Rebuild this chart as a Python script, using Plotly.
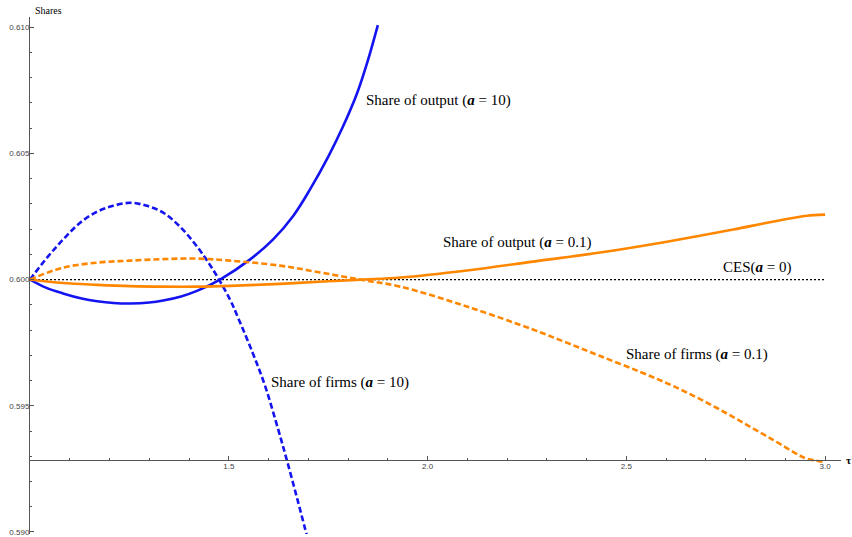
import plotly.graph_objects as go

# ---- data ----
out10_t = [1.0, 1.04, 1.083, 1.13, 1.169, 1.21, 1.252, 1.3, 1.335, 1.38, 1.42, 1.478, 1.553, 1.611, 1.662, 1.704, 1.75, 1.787, 1.823, 1.848, 1.875]
out10_v = [0.6, 0.59968, 0.59945, 0.59925, 0.59914, 0.59907, 0.59905, 0.59909, 0.59917, 0.59933, 0.59955, 0.60000, 0.60079, 0.60158, 0.60252, 0.60356, 0.60486, 0.60605, 0.60739, 0.60858, 0.61008]

firm10_t = [1.0, 1.043, 1.083, 1.126, 1.169, 1.209, 1.252, 1.294, 1.335, 1.377, 1.42, 1.46, 1.503, 1.523, 1.56, 1.591, 1.624, 1.646, 1.672, 1.697]
firm10_v = [0.6, 0.60087, 0.60158, 0.60225, 0.60269, 0.60292, 0.60304, 0.60292, 0.60265, 0.60210, 0.60131, 0.60040, 0.59921, 0.59850, 0.59710, 0.59580, 0.59408, 0.59285, 0.59133, 0.58982]

out01_t = [1.0, 1.083, 1.169, 1.252, 1.335, 1.42, 1.503, 1.629, 1.75, 1.84, 1.931, 2.099, 2.265, 2.434, 2.602, 2.769, 2.854, 2.937, 2.955, 3.0]
out01_v = [0.6, 0.59986, 0.59979, 0.59974, 0.59972, 0.59972, 0.59975, 0.59983, 0.59993, 0.60000, 0.60008, 0.60036, 0.60071, 0.60107, 0.60150, 0.60198, 0.60225, 0.60249, 0.60253, 0.60257]

firm01_t = [1.0, 1.083, 1.169, 1.252, 1.335, 1.42, 1.503, 1.629, 1.73, 1.83, 1.931, 2.099, 2.265, 2.35, 2.434, 2.535, 2.618, 2.703, 2.786, 2.869, 2.937, 2.955, 3.0]
firm01_v = [0.6, 0.60047, 0.60067, 0.60075, 0.60081, 0.60083, 0.60075, 0.60055, 0.60028, 0.60000, 0.59972, 0.59893, 0.59802, 0.59750, 0.59697, 0.59634, 0.59578, 0.59512, 0.59440, 0.59365, 0.59302, 0.59290, 0.59277]

ces_t = [1.0, 3.0]
ces_v = [0.6, 0.6]

x_tickvals = [1.5, 2.0, 2.5, 3.0]
x_ticktext = ["1.5", "2.0", "2.5", "3.0"]
y_tickvals = [0.590, 0.595, 0.600, 0.605, 0.610]
y_ticktext = ["0.590", "0.595", "0.600", "0.605", "0.610"]

labels = [
    ("Share of output (<b><i>a</i></b> = 10)", 2.028, 0.60711),
    ("Share of output (<b><i>a</i></b> = 0.1)", 2.226, 0.60146),
    ("CES(<b><i>a</i></b> = 0)", 2.828, 0.60047),
    ("Share of firms (<b><i>a</i></b> = 0.1)", 2.679, 0.59704),
    ("Share of firms (<b><i>a</i></b> = 10)", 1.78, 0.59593),
]

BLUE = "rgb(20,20,240)"
ORANGE = "rgb(255,135,0)"

XR = [1.0, 3.04]
YR = [0.58992, 0.6104]
X_AXIS_Y = 0.59285

fig = go.Figure()
fig.add_trace(go.Scatter(x=ces_t, y=ces_v, mode="lines",
                         line=dict(color="black", width=1.3, dash="2px,2px")))
fig.add_trace(go.Scatter(x=out10_t, y=out10_v, mode="lines", line_shape="spline",
                         line=dict(color=BLUE, width=2.6)))
fig.add_trace(go.Scatter(x=firm10_t, y=firm10_v, mode="lines", line_shape="spline",
                         line=dict(color=BLUE, width=2.6, dash="6px,3px")))
fig.add_trace(go.Scatter(x=out01_t, y=out01_v, mode="lines", line_shape="spline",
                         line=dict(color=ORANGE, width=2.6)))
fig.add_trace(go.Scatter(x=firm01_t, y=firm01_v, mode="lines", line_shape="spline",
                         line=dict(color=ORANGE, width=2.6, dash="6px,3px")))

for txt, x, y in labels:
    fig.add_annotation(x=x, y=y, xref="x", yref="y", text=txt, showarrow=False,
                       font=dict(family="Liberation Serif", size=15, color="black"))

fig.add_annotation(x=0.004, y=1.0, xref="paper", yref="paper", text="Shares",
                   showarrow=False, xanchor="left", yanchor="bottom", yshift=-1,
                   font=dict(family="Liberation Serif", size=10, color="black"))
fig.add_annotation(x=1.0, y=X_AXIS_Y, xref="paper", yref="y", text="<b>τ</b>",
                   showarrow=False, xanchor="left", xshift=3,
                   font=dict(family="Liberation Serif", size=11, color="black"))

pos = (X_AXIS_Y - YR[0]) / (YR[1] - YR[0])

fig.update_layout(
    width=852, height=537,
    margin=dict(l=30, r=11, t=17, b=3),
    paper_bgcolor="white", plot_bgcolor="white",
    showlegend=False,
    xaxis=dict(range=XR, anchor="free", position=pos, showgrid=False, zeroline=False,
               automargin=False,
               showline=True, linecolor="#555", linewidth=1,
               tickvals=x_tickvals, ticktext=x_ticktext,
               ticks="inside", ticklen=4, tickcolor="#555", ticklabelstandoff=-2,
               minor=dict(dtick=0.1, tick0=1.0, ticks="inside", ticklen=2, tickcolor="#555"),
               tickfont=dict(family="Liberation Sans", size=8, color="#444")),
    yaxis=dict(range=YR, showgrid=False, zeroline=False, automargin=False,
               showline=True, linecolor="#555", linewidth=1,
               tickvals=y_tickvals, ticktext=y_ticktext,
               ticks="inside", ticklen=4, tickcolor="#555", ticklabelstandoff=-2,
               minor=dict(dtick=0.001, tick0=0.59, ticks="inside", ticklen=2, tickcolor="#555"),
               tickfont=dict(family="Liberation Sans", size=8, color="#444")),
)

fig.write_html("out.html", config={"displayModeBar": False},
               post_script="document.body.style.margin='0';")
